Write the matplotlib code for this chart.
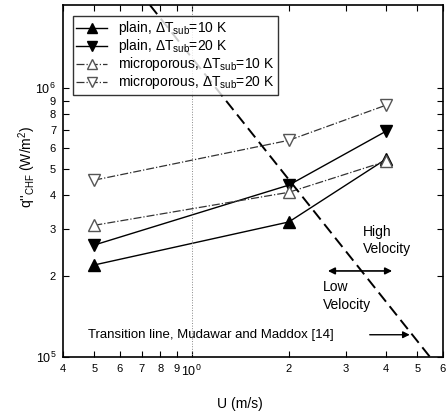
import matplotlib
matplotlib.use("Agg")
import matplotlib.pyplot as plt
from matplotlib.ticker import FixedLocator, FixedFormatter, NullLocator

plt.rcParams['font.family'] = ['Liberation Sans', 'DejaVu Sans']
plt.rcParams['mathtext.fontset'] = 'custom'
plt.rcParams['mathtext.rm'] = 'Liberation Sans'
plt.rcParams['mathtext.it'] = 'Liberation Sans:italic'

# velocity (m/s) and CHF (W/m^2)
U = [0.5, 2.0, 4.0]
plain_10 = [2.20e5, 3.18e5, 5.45e5]
plain_20 = [2.61e5, 4.36e5, 6.92e5]
micro_10 = [3.09e5, 4.10e5, 5.35e5]
micro_20 = [4.55e5, 6.40e5, 8.65e5]

# Mudawar & Maddox transition line end points
trans_U = [0.743, 5.47]
trans_q = [2.04e6, 1.0e5]

x_ticks = [0.4, 0.5, 0.6, 0.7, 0.8, 0.9, 1.0, 2, 3, 4, 5, 6]
x_labels = ['4', '5', '6', '7', '8', '9', r'$10^0$', '2', '3', '4', '5', '6']
y_ticks = [1e5, 2e5, 3e5, 4e5, 5e5, 6e5, 7e5, 8e5, 9e5, 1e6]
y_labels = [r'$10^5$', '2', '3', '4', '5', '6', '7', '8', '9', r'$10^6$']

fig = plt.figure(figsize=(4.48, 4.17), dpi=100)
ax = fig.add_axes([0.1406, 0.1439, 0.8482, 0.8441])
ax.set_xscale('log')
ax.set_yscale('log')
ax.set_xlim(0.4, 6.0)
ax.set_ylim(1e5, 2.04e6)

ax.plot(U, plain_10, '-', color='black', lw=1.0, marker='^', ms=8,
        mfc='black', mec='black', label=r'plain, $\Delta$T$_{\rm sub}$=10 K')
ax.plot(U, plain_20, '-', color='black', lw=1.0, marker='v', ms=8,
        mfc='black', mec='black', label=r'plain, $\Delta$T$_{\rm sub}$=20 K')
ax.plot(U, micro_10, '-.', color='#333333', lw=0.9, marker='^', ms=8,
        mfc='white', mec='#555555', label=r'microporous, $\Delta$T$_{\rm sub}$=10 K')
ax.plot(U, micro_20, '-.', color='#333333', lw=0.9, marker='v', ms=8,
        mfc='white', mec='#555555', label=r'microporous, $\Delta$T$_{\rm sub}$=20 K')

ax.plot(trans_U, trans_q, '--', color='black', lw=1.4, dashes=(6, 3))

ax.axvline(1.0, color='#888888', lw=0.7, ls=':')

ax.xaxis.set_major_locator(FixedLocator(x_ticks))
ax.xaxis.set_major_formatter(FixedFormatter(x_labels))
ax.xaxis.set_minor_locator(NullLocator())
ax.yaxis.set_major_locator(FixedLocator(y_ticks))
ax.yaxis.set_major_formatter(FixedFormatter(y_labels))
ax.yaxis.set_minor_locator(NullLocator())
ax.tick_params(which='both', direction='in', top=True, right=True,
               length=4, width=0.8, labelsize=8, pad=5)
for lab in ax.get_xticklabels() + ax.get_yticklabels():
    if '$' in lab.get_text():
        lab.set_fontsize(9)

for s in ax.spines.values():
    s.set_linewidth(1.2)

ax.set_xlabel('U (m/s)', fontsize=10)
ax.xaxis.set_label_coords(0.466, -0.113)
ax.set_ylabel(r"q''$_{\rm CHF}$ (W/m$^2$)", fontsize=10)
ax.yaxis.set_label_coords(-0.065, 0.54)

leg = ax.legend(loc='upper left', bbox_to_anchor=(0.026, 0.969), fontsize=10,
                frameon=True, fancybox=False, edgecolor='black',
                handlelength=2.2, borderpad=0.25, labelspacing=0.0,
                handletextpad=0.8, borderaxespad=0.0, markerscale=0.85)
leg.get_frame().set_linewidth(1.0)

ax.text(3.40, 3.1e5, 'High\nVelocity', fontsize=10, ha='left', va='top',
        linespacing=1.3)
ax.text(2.55, 1.93e5, 'Low\nVelocity', fontsize=10, ha='left', va='top',
        linespacing=1.3)
ax.annotate('', xy=(2.59, 2.09e5), xytext=(4.26, 2.09e5),
            arrowprops=dict(arrowstyle='<|-|>', color='black', lw=1.2,
                            mutation_scale=10))
ax.text(0.478, 1.21e5, 'Transition line, Mudawar and Maddox [14]',
        fontsize=9.5, ha='left', va='center')
ax.annotate('', xy=(4.83, 1.21e5), xytext=(3.49, 1.21e5),
            arrowprops=dict(arrowstyle='-|>', color='black', lw=1.0,
                            mutation_scale=10))

fig.savefig('out.png', dpi=100)
